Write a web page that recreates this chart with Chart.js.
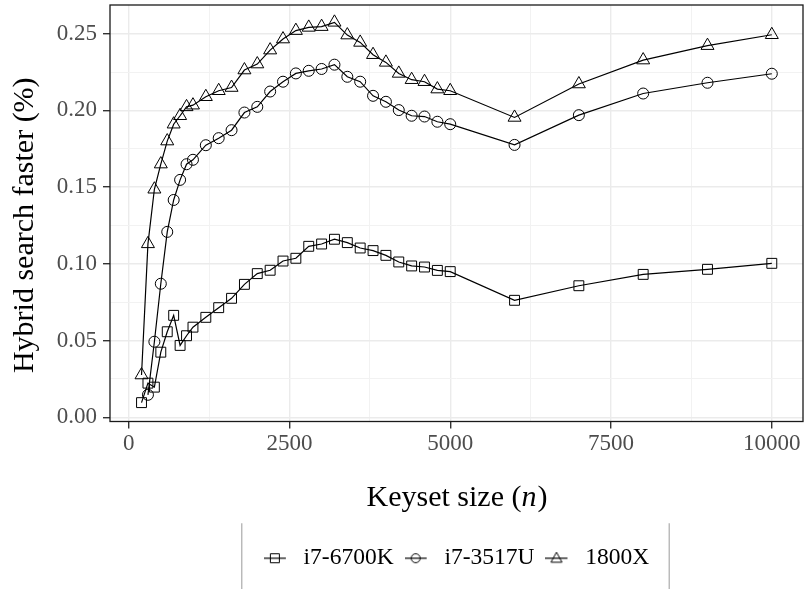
<!DOCTYPE html>
<html>
<head>
<meta charset="utf-8">
<script src="https://cdn.jsdelivr.net/npm/chart.js@4.4.1/dist/chart.umd.min.js"></script>
<style>
  body { margin: 0; background: #fff; }
  #wrap { width: 806px; height: 589px; }
</style>
</head>
<body>
<div id="wrap"><canvas id="hybridChart"></canvas></div>
<script>
// keyset sizes (n)
const keysetSizes = [200, 300, 400, 500, 600, 700, 800, 900, 1000,
  1200, 1400, 1600, 1800, 2000, 2200, 2400, 2600, 2800, 3000, 3200,
  3400, 3600, 3800, 4000, 4200, 4400, 4600, 4800, 5000,
  6000, 7000, 8000, 9000, 10000];

const i7_6700K = [0.0095, 0.0222, 0.0196, 0.0424, 0.0557, 0.0664, 0.0468, 0.0531, 0.0587,
  0.0651, 0.0714, 0.0775, 0.0866, 0.0936, 0.0958, 0.1018, 0.1036, 0.1114, 0.1129, 0.1160,
  0.1138, 0.1103, 0.1086, 0.1055, 0.1012, 0.0986, 0.0979, 0.0957, 0.0949,
  0.0762, 0.0857, 0.0931, 0.0964, 0.1003];

const i7_3517U = [null, 0.0146, 0.0492, 0.0870, 0.1208, 0.1416, 0.1547, 0.1649, 0.1678,
  0.1773, 0.1819, 0.1871, 0.1986, 0.2023, 0.2123, 0.2187, 0.2241, 0.2258, 0.2270, 0.2298,
  0.2219, 0.2187, 0.2095, 0.2056, 0.2002, 0.1965, 0.1960, 0.1926, 0.1910,
  0.1775, 0.1969, 0.2110, 0.2180, 0.2239];

const r1800X = [0.0275, 0.1130, 0.1486, 0.1650, 0.1800, 0.1910, 0.1965, 0.2023, 0.2034,
  0.2089, 0.2128, 0.2149, 0.2263, 0.2302, 0.2393, 0.2465, 0.2520, 0.2541, 0.2546, 0.2574,
  0.2491, 0.2443, 0.2363, 0.2313, 0.2241, 0.2200, 0.2187, 0.2139, 0.2128,
  0.1954, 0.2172, 0.2328, 0.2422, 0.2493];

const seriesNames = ['i7-6700K', 'i7-3517U', '1800X'];
const xTicks = [0, 1250, 2500, 3750, 5000, 6250, 7500, 8750, 10000];
const xTickLabels = ['0', '2500', '5000', '7500', '10000'];
const yTicks = [0, 0.025, 0.05, 0.075, 0.1, 0.125, 0.15, 0.175, 0.2, 0.225, 0.25];
const yTickLabels = ['0.00', '0.05', '0.10', '0.15', '0.20', '0.25'];
const yTitle = 'Hybrid search faster (%)';

const serif = "'Liberation Serif', 'DejaVu Serif', serif";
const styles = ['rect', 'circle', 'triangle'];
const radii = [7, 5.5, 7.5];

function pts(ys) {
  return keysetSizes.map((x, i) => ({ x: x, y: ys[i] }));
}

// legend key: short line with the hollow marker on top
function legendKey(style) {
  const c = document.createElement('canvas');
  c.width = 28; c.height = 16;
  const g = c.getContext('2d');
  g.strokeStyle = '#000'; g.lineWidth = 1.2;
  g.beginPath(); g.moveTo(0, 8); g.lineTo(22, 8); g.stroke();
  g.lineWidth = 1;
  g.beginPath();
  if (style === 'rect') g.rect(6.5, 3.5, 9, 9);
  else if (style === 'circle') g.arc(11, 8, 4.5, 0, Math.PI * 2);
  else { g.moveTo(11, 2); g.lineTo(16.5, 12); g.lineTo(5.5, 12); g.closePath(); }
  g.stroke();
  return c;
}

const keys = styles.map(legendKey);

const frame = {
  id: 'frame',
  afterDraw(chart) {
    const ctx = chart.ctx;
    const a = chart.chartArea;
    ctx.save();
    ctx.strokeStyle = '#1a1a1a';
    ctx.lineWidth = 1.3;
    ctx.strokeRect(a.left, a.top, a.right - a.left, a.bottom - a.top);

    // x title with italic n
    const xs = chart.scales.x;
    const ty = xs.bottom - 37;
    ctx.fillStyle = '#000';
    ctx.textBaseline = 'middle';
    const p1 = 'Keyset size (', p2 = 'n', p3 = ')';
    ctx.font = '30px ' + serif;
    const w1 = ctx.measureText(p1).width, w3 = ctx.measureText(p3).width;
    ctx.font = 'italic 30px ' + serif;
    const w2 = ctx.measureText(p2).width;
    let tx = (a.left + a.right) / 2 - (w1 + w2 + w3) / 2;
    ctx.textAlign = 'left';
    ctx.font = '30px ' + serif;
    ctx.fillText(p1, tx, ty);
    ctx.font = 'italic 30px ' + serif;
    ctx.fillText(p2, tx + w1, ty);
    ctx.font = '30px ' + serif;
    ctx.fillText(p3, tx + w1 + w2 + 1, ty);

    // y title
    ctx.save();
    ctx.translate(25, (a.top + a.bottom) / 2 + 12);
    ctx.rotate(-Math.PI / 2);
    ctx.textAlign = 'center';
    ctx.font = '30px ' + serif;
    ctx.fillText(yTitle, 0, 0);
    ctx.restore();

    // legend box sides
    const hb = chart.legend.legendHitBoxes;
    if (hb && hb.length) {
      const l = hb[0].left - 22;
      const last = hb[hb.length - 1];
      const r = last.left + last.width + 20;
      const cy = hb[0].top + hb[0].height / 2;
      ctx.strokeStyle = '#9a9a9a';
      ctx.lineWidth = 1;
      ctx.beginPath();
      ctx.moveTo(l, cy - 35); ctx.lineTo(l, chart.height);
      ctx.moveTo(r, cy - 35); ctx.lineTo(r, chart.height);
      ctx.stroke();
    }
    ctx.restore();
  }
};

new Chart(document.getElementById('hybridChart'), {
  type: 'line',
  data: {
    datasets: [i7_6700K, i7_3517U, r1800X].map((ys, i) => ({
      label: seriesNames[i],
      data: pts(ys),
      borderColor: '#000',
      borderWidth: 1.2,
      backgroundColor: 'rgba(0,0,0,0)',
      pointStyle: styles[i],
      pointRadius: radii[i],
      pointBorderWidth: 1,
      pointBorderColor: '#000',
      pointBackgroundColor: 'rgba(0,0,0,0)',
      tension: 0,
      spanGaps: false
    }))
  },
  options: {
    responsive: true,
    maintainAspectRatio: false,
    animation: false,
    devicePixelRatio: 1,
    layout: { autoPadding: false, padding: { top: 5, right: 3, left: 0, bottom: 9 } },
    scales: {
      x: {
        type: 'linear',
        min: -290,
        max: 10485,
        afterBuildTicks: (axis) => { axis.ticks = xTicks.map(v => ({ value: v })); },
        afterFit: (scale) => { scale.height = 114; scale.paddingLeft = 0; scale.paddingRight = 0; },
        ticks: {
          autoSkip: false,
          maxRotation: 0,
          padding: 2,
          color: '#4d4d4d',
          font: { family: serif, size: 23 },
          callback: (v) => (v % 2500 === 0 ? xTickLabels[v / 2500] : '')
        },
        grid: {
          color: (c) => (c.tick && c.tick.value % 2500 === 0 ? '#ebebeb' : '#f2f2f2'),
          lineWidth: (c) => (c.tick && c.tick.value % 2500 === 0 ? 1.4 : 1),
          tickColor: (c) => (c.tick && c.tick.value % 2500 === 0 ? '#333' : 'rgba(0,0,0,0)'),
          tickLength: 7,
          drawTicks: true
        },
        border: { display: false },
        title: { display: true, text: 'Keyset size (n)', color: 'rgba(0,0,0,0)', font: { family: serif, size: 30 } }
      },
      y: {
        type: 'linear',
        min: -0.0028,
        max: 0.2687,
        afterBuildTicks: (axis) => { axis.ticks = yTicks.map(v => ({ value: v })); },
        afterFit: (scale) => { scale.width = 110; scale.paddingTop = 0; scale.paddingBottom = 0; },
        ticks: {
          autoSkip: false,
          padding: 6,
          color: '#4d4d4d',
          font: { family: serif, size: 23 },
          callback: (v) => {
            const k = Math.round(v * 1000);
            return k % 50 === 0 ? yTickLabels[k / 50] : '';
          }
        },
        grid: {
          color: (c) => (c.tick && Math.round(c.tick.value * 1000) % 50 === 0 ? '#ebebeb' : '#f2f2f2'),
          lineWidth: (c) => (c.tick && Math.round(c.tick.value * 1000) % 50 === 0 ? 1.4 : 1),
          tickColor: (c) => (c.tick && Math.round(c.tick.value * 1000) % 50 === 0 ? '#333' : 'rgba(0,0,0,0)'),
          tickLength: 7,
          drawTicks: true
        },
        border: { display: false },
        title: { display: true, text: yTitle, color: 'rgba(0,0,0,0)', padding: { top: 8, bottom: 0 }, font: { family: serif, size: 29 } }
      }
    },
    plugins: {
      tooltip: { enabled: false },
      legend: {
        position: 'bottom',
        fullSize: false,
        labels: {
          usePointStyle: true,
          pointStyleWidth: 28,
          boxHeight: 16,
          padding: 11,
          color: '#000',
          font: { family: serif, size: 23.5 },
          generateLabels: (chart) => seriesNames.map((name, i) => ({
            text: name,
            pointStyle: keys[i],
            datasetIndex: i,
            fontColor: '#000',
            lineWidth: 0,
            strokeStyle: 'rgba(0,0,0,0)',
            fillStyle: 'rgba(0,0,0,0)'
          }))
        }
      }
    }
  },
  plugins: [frame]
});
</script>
</body>
</html>
